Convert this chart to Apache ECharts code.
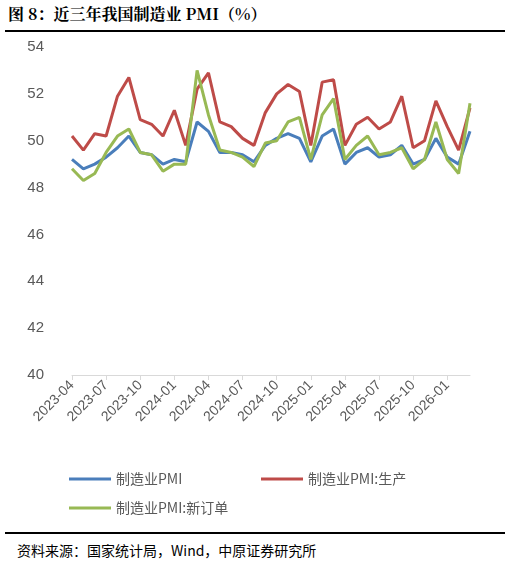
<!DOCTYPE html>
<html><head><meta charset="utf-8">
<script src="https://cdn.jsdelivr.net/npm/echarts@6/dist/echarts.min.js"></script>
<style>
body{margin:0;background:#fff;font-family:"Noto Sans CJK SC",sans-serif}
#title{position:absolute;left:8px;top:2px;font-size:16px;font-weight:bold;font-family:"Noto Serif CJK SC","Noto Sans CJK SC";color:#000}
#rule1{position:absolute;left:5px;right:5px;top:30px;border-top:2px solid #000}
#rule2{position:absolute;left:5px;right:5px;top:532px;border-top:2px solid #000}
#src{position:absolute;left:17px;top:540px;font-size:14px;color:#000}
#box{position:absolute;left:0;top:32px;width:510px;height:500px}
</style></head><body>
<div id="title">图 8：近三年我国制造业 PMI（%）</div>
<div id="rule1"></div>
<div id="box"></div>
<div id="rule2"></div>
<div id="src">资料来源：国家统计局，Wind，中原证券研究所</div>
<script>
// 月份
const months = [];
for (let y = 2023, m = 4; months.length < 36; m++) {
    if (m > 12) { m = 1; y++; }
    months.push(`${y}-${String(m).padStart(2, '0')}`);
}
// 制造业PMI
const pmi = [49.2,48.8,49.0,49.3,49.7,50.2,49.5,49.4,49.0,49.2,49.1,50.8,50.4,49.5,49.5,49.4,49.1,49.8,50.1,50.3,50.1,49.1,50.2,50.5,49.0,49.5,49.7,49.3,49.4,49.8,49.0,49.2,50.1,49.3,49.0,50.4];
// 生产
const production = [50.2,49.6,50.3,50.2,51.9,52.7,50.9,50.7,50.2,51.3,49.8,52.2,52.9,50.8,50.6,50.1,49.8,51.2,52.0,52.4,52.1,49.8,52.5,52.6,49.8,50.7,51.0,50.5,50.8,51.9,49.7,50.0,51.7,50.6,49.6,51.4];
// 新订单
const newOrders = [48.8,48.3,48.6,49.5,50.2,50.5,49.5,49.4,48.7,49.0,49.0,53.0,51.1,49.6,49.5,49.3,48.9,49.9,50.0,50.8,51.0,49.2,51.1,51.8,49.2,49.8,50.2,49.4,49.5,49.7,48.8,49.2,50.8,49.2,48.6,51.6];

const chart = echarts.init(document.getElementById('box'));
const mk = (name, data, color) => ({
    name, type: 'line', data, symbol: 'none',
    lineStyle: { color, width: 3 }, itemStyle: { color }
});
const legendBase = {
    itemWidth: 42, itemHeight: 3, icon: 'rect',
    textStyle: { fontSize: 14, color: '#595959', fontFamily: 'Noto Sans CJK SC' }
};
chart.setOption({
    animation: false,
    grid: { left: 72, right: 40, top: 15, bottom: 157 },
    legend: [
        Object.assign({ left: 64, top: 435, data: ['制造业PMI'] }, legendBase),
        Object.assign({ left: 256, top: 435, data: ['制造业PMI:生产'] }, legendBase),
        Object.assign({ left: 64, top: 464, data: ['制造业PMI:新订单'] }, legendBase)
    ],
    xAxis: {
        type: 'category', data: months, boundaryGap: false,
        axisLine: { lineStyle: { color: '#d9d9d9' } },
        axisTick: { show: true, interval: 2, lineStyle: { color: '#d9d9d9' } },
        axisLabel: { interval: 2, rotate: 45, fontSize: 14, color: '#595959', margin: 8 }
    },
    yAxis: {
        type: 'value', min: 40, max: 54, interval: 2,
        splitLine: { show: false },
        axisLabel: { fontSize: 15, color: '#595959', margin: 28 }
    },
    series: [
        mk('制造业PMI', pmi, '#4a7ebb'),
        mk('制造业PMI:生产', production, '#be4b48'),
        mk('制造业PMI:新订单', newOrders, '#98b954')
    ]
});
</script>
</body></html>
